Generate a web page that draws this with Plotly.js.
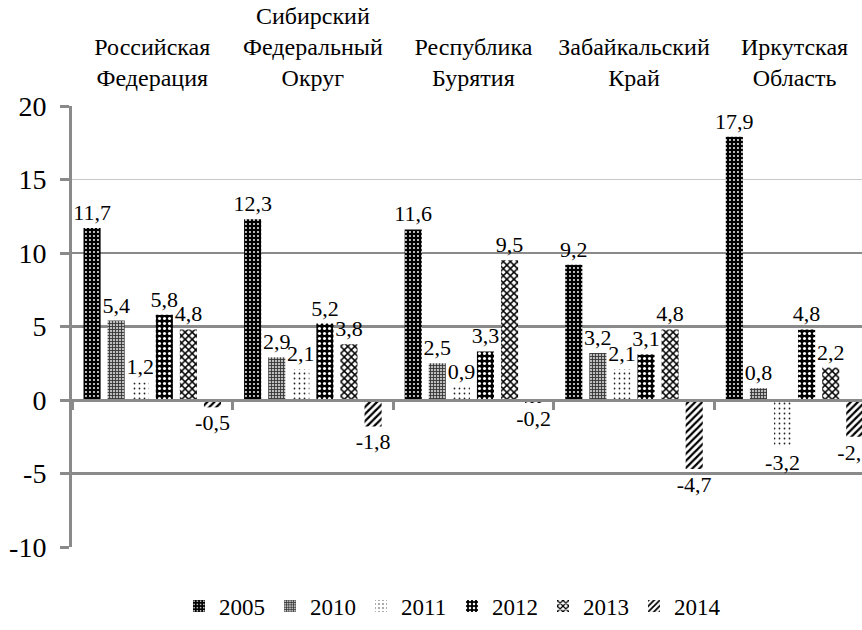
<!DOCTYPE html>
<html>
<head>
<meta charset="utf-8">
<script src="https://cdn.plot.ly/plotly-3.0.1.min.js"></script>
<style>html,body{margin:0;padding:0;background:#fff;}</style>
</head>
<body>
<div id="chart" style="width:862px;height:630px;"></div>
<script>
const categories = ['Российская Федерация', 'Сибирский Федеральный Округ', 'Республика Бурятия', 'Забайкальский Край', 'Иркутская Область'];
const categoryLabels = ['Российская<br>Федерация', 'Сибирский<br>Федеральный<br>Округ', 'Республика<br>Бурятия', 'Забайкальский<br>Край', 'Иркутская<br>Область'];
const seriesNames = ['2005', '2010', '2011', '2012', '2013', '2014'];
const v2005 = [11.7, 12.3, 11.6, 9.2, 17.9];
const v2010 = [5.4, 2.9, 2.5, 3.2, 0.8];
const v2011 = [1.2, 2.1, 0.9, 2.1, -3.2];
const v2012 = [5.8, 5.2, 3.3, 3.1, 4.8];
const v2013 = [4.8, 3.8, 9.5, 4.8, 2.2];
const v2014 = [-0.5, -1.8, -0.2, -4.7, -2.5];
const yTickVals = [-10, -5, 0, 5, 10, 15, 20];
const yTickText = ['-10', '-5', '0', '5', '10', '15', '20'];
const gridStrong = [-5, 5, 10, 20];
const gridLight = [15];

const seriesValues = [v2005, v2010, v2011, v2012, v2013, v2014];
const patterns = [
  {shape: '.', bgcolor: '#000000', fgcolor: '#ffffff', size: 4, solidity: 0.18},
  {shape: '+', bgcolor: '#bdbdbd', fgcolor: '#333333', size: 3, solidity: 0.5},
  {shape: '.', bgcolor: '#ffffff', fgcolor: '#222222', size: 5, solidity: 0.1},
  {shape: '.', bgcolor: '#000000', fgcolor: '#ffffff', size: 5, solidity: 0.3},
  {shape: 'x', bgcolor: '#ffffff', fgcolor: '#000000', size: 5, solidity: 0.5},
  {shape: '/', bgcolor: '#ffffff', fgcolor: '#000000', size: 5, solidity: 0.45}
];
const fmt = v => v.toFixed(1).replace('.', ',');
const FONT = 'Liberation Serif';

const traces = seriesNames.map((name, i) => ({
  type: 'bar',
  name: name,
  x: categories,
  y: seriesValues[i],
  text: seriesValues[i].map(fmt),
  textposition: 'outside',
  textangle: 0,
  constraintext: 'none',
  cliponaxis: true,
  textfont: {family: FONT, size: 22, color: '#000'},
  hoverinfo: 'x+y+name',
  marker: {color: patterns[i].bgcolor, line: {width: 0}, pattern: Object.assign({fillmode: 'replace'}, patterns[i])}
}));

// invisible helper trace so the top label axis and the light grid axis are drawn
traces.push({
  type: 'scatter', mode: 'markers', xaxis: 'x2', yaxis: 'y2',
  x: [0, 1, 2, 3, 4], y: [0, 0, 0, 0, 0],
  marker: {opacity: 0, size: 1}, showlegend: false, hoverinfo: 'skip'
});

const grey = '#8a8a8a';
const layout = {
  width: 862, height: 630,
  margin: {l: 72, r: 0, t: 106, b: 83},
  paper_bgcolor: '#fff', plot_bgcolor: '#fff',
  font: {family: FONT, color: '#000'},
  barmode: 'group',
  bargap: 0.10,
  bargroupgap: 0.29,
  showlegend: true,
  legend: {orientation: 'h', x: 0.481, xanchor: 'center', y: -0.134, yanchor: 'middle',
           font: {family: FONT, size: 23, color: '#000'}, itemwidth: 30, traceorder: 'normal',
           entrywidth: 46},
  xaxis: {
    type: 'category', range: [-0.5, 4.42],
    anchor: 'free', position: 1/3,
    showline: true, linecolor: grey, linewidth: 3,
    ticks: 'outside', tickson: 'boundaries', ticklen: 8, tickwidth: 3, tickcolor: grey,
    showticklabels: false, showgrid: false, zeroline: false, fixedrange: true
  },
  xaxis2: {
    overlaying: 'x', side: 'top', anchor: 'y2', type: 'linear', range: [-0.5, 4.42],
    tickmode: 'array', tickvals: [0, 1, 2, 3, 4], ticktext: categoryLabels,
    ticks: '', showline: false, showgrid: false, zeroline: false,
    tickfont: {family: FONT, size: 24, color: '#000'}, ticklabelstandoff: 14
  },
  yaxis: {
    range: [-10, 20], tickmode: 'array', tickvals: yTickVals, ticktext: yTickText,
    showline: true, linecolor: grey, linewidth: 3,
    ticks: 'outside', ticklen: 9, tickwidth: 3, tickcolor: grey,
    showgrid: false, zeroline: false,
    minor: {tickmode: 'array', tickvals: gridStrong, ticks: '', showgrid: true, gridcolor: grey, gridwidth: 2.5},
    tickfont: {family: FONT, size: 28, color: '#000'}, ticklabelstandoff: 8
  },
  yaxis2: {
    overlaying: 'y', range: [-10, 20], tickmode: 'array', tickvals: gridLight,
    showticklabels: false, ticks: '', showline: false, zeroline: false,
    showgrid: true, gridcolor: '#c8c8c8', gridwidth: 1
  }
};

Plotly.newPlot('chart', traces, layout, {displayModeBar: false, staticPlot: true});
</script>
</body>
</html>
